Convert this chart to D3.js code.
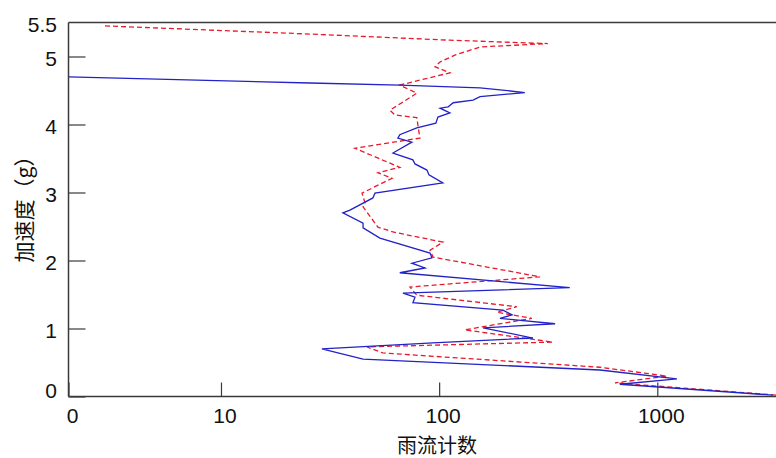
<!DOCTYPE html>
<html>
<head>
<meta charset="utf-8">
<script src="https://cdn.jsdelivr.net/npm/d3@7/dist/d3.min.js"></script>
<style>
  html, body { margin: 0; padding: 0; background: #fff; }
  svg { display: block; }
  .tick-label { font-family: "Liberation Sans", Arial, sans-serif; font-size: 21px; fill: #111; }
  .axis-title { font-family: "Noto Sans CJK SC", sans-serif; font-size: 21px; fill: #111; }
</style>
</head>
<body>
<svg id="chart" width="776" height="458"></svg>
<script>
// Rainflow counts (log axis) against acceleration level (g)
const series1Count = [2, 25.6, 66, 154, 247, 154, 143, 116, 110, 101, 112, 98.7, 96.6, 79, 66, 64.7, 75, 61.4, 75.8, 77.5, 87.9, 89.8, 104, 50.8, 49.7, 39, 36.2, 44.8, 44.8, 53.5, 90.8, 92.7, 75, 86.1, 66, 397, 68.2, 77.5, 75.8, 196, 216, 190, 340, 159, 269, 93.6, 29, 44.8, 546, 1230, 673, 3388];
const series1Accel = [4.70, 4.61, 4.58, 4.54, 4.47, 4.41, 4.36, 4.32, 4.26, 4.24, 4.17, 4.11, 4.02, 3.95, 3.85, 3.80, 3.74, 3.58, 3.48, 3.42, 3.33, 3.26, 3.14, 2.99, 2.92, 2.74, 2.70, 2.55, 2.48, 2.33, 2.11, 2.04, 1.96, 1.89, 1.82, 1.60, 1.52, 1.46, 1.38, 1.27, 1.20, 1.15, 1.07, 1.01, 0.86, 0.79, 0.70, 0.55, 0.39, 0.26, 0.18, 0.02];

const series2Count = [2.94, 25.6, 112, 315, 154, 118, 101, 95.7, 112, 66, 79, 59.5, 62.7, 79, 81.6, 41.1, 66, 52.4, 60.8, 44.3, 45.7, 44.8, 52.4, 61.4, 104, 90.8, 93.8, 290, 73.5, 79, 227, 184, 266, 131, 332, 46.7, 55.2, 546, 1107, 640, 3532];
const series2Accel = [5.45, 5.33, 5.24, 5.19, 5.14, 5.02, 4.92, 4.85, 4.76, 4.58, 4.46, 4.21, 4.14, 4.10, 3.80, 3.65, 3.37, 3.29, 3.21, 2.99, 2.85, 2.79, 2.49, 2.42, 2.27, 2.15, 2.05, 1.76, 1.61, 1.49, 1.32, 1.24, 1.15, 0.98, 0.80, 0.73, 0.64, 0.43, 0.30, 0.20, 0.02];

const xTickValues = [2, 10, 100, 1000];
const xTickLabels = ["0", "10", "100", "1000"];
const yTickValues = [0, 1, 2, 3, 4, 5, 5.5];
const yTickLabels = ["0", "1", "2", "3", "4", "5", "5.5"];

const xTitle = "雨流计数";
const yTitle = "加速度（g）";

const svg = d3.select("#chart");
const plotLeft = 68.5, plotRight = 776, plotTop = 22.5, plotBottom = 396.5;

const x = d3.scaleLog().domain([2, 3500]).range([plotLeft, plotRight]);
const y = d3.scaleLinear().domain([0, 5.5]).range([plotBottom, plotTop]);

svg.append("defs").append("clipPath").attr("id", "plot-clip")
  .append("rect").attr("x", plotLeft).attr("y", plotTop)
  .attr("width", plotRight - plotLeft).attr("height", plotBottom - plotTop);

const line = d3.line().x(d => x(d[0])).y(d => y(d[1]));
const s1 = series1Count.map((c, i) => [c, series1Accel[i]]);
const s2 = series2Count.map((c, i) => [c, series2Accel[i]]);

const plot = svg.append("g").attr("clip-path", "url(#plot-clip)");
plot.append("path").datum(s2)
  .attr("fill", "none").attr("stroke", "#e8192c").attr("stroke-width", 1.3)
  .attr("stroke-dasharray", "5,3").attr("d", line);
plot.append("path").datum(s1)
  .attr("fill", "none").attr("stroke", "#2222c8").attr("stroke-width", 1.3)
  .attr("d", line);

// Frame: left, bottom and top edges
const axisColor = "#3a3a3a";
svg.append("line").attr("x1", plotLeft).attr("x2", plotLeft).attr("y1", plotTop).attr("y2", plotBottom)
  .attr("stroke", axisColor).attr("stroke-width", 1.5);
svg.append("line").attr("x1", plotLeft).attr("x2", plotRight).attr("y1", plotBottom).attr("y2", plotBottom)
  .attr("stroke", axisColor).attr("stroke-width", 1.5);
svg.append("line").attr("x1", plotLeft).attr("x2", plotRight).attr("y1", plotTop).attr("y2", plotTop)
  .attr("stroke", axisColor).attr("stroke-width", 1.5);

// Inward ticks
const xAxis = d3.axisTop(x).tickValues(xTickValues).tickSize(14).tickFormat("");
const xg = svg.append("g").attr("transform", `translate(0,${plotBottom})`).call(xAxis);
xg.select(".domain").remove();
xg.selectAll(".tick line").attr("stroke", axisColor).attr("stroke-width", 1.2);

const yAxis = d3.axisRight(y).tickValues(yTickValues.filter(v => v < 5.5)).tickSize(17).tickFormat("");
const yg = svg.append("g").attr("transform", `translate(${plotLeft},0)`).call(yAxis);
yg.select(".domain").remove();
yg.selectAll(".tick line").attr("stroke", axisColor).attr("stroke-width", 1.2);

// Tick labels
svg.selectAll(".xl").data(xTickValues).enter().append("text")
  .attr("class", "tick-label").attr("x", d => x(d) + 4).attr("y", 415)
  .attr("text-anchor", "middle").attr("dominant-baseline", "central")
  .text((d, i) => xTickLabels[i]);

svg.selectAll(".yl").data(yTickValues).enter().append("text")
  .attr("class", "tick-label").attr("x", 57)
  .attr("y", d => d === 0 ? y(d) - 6 : y(d) + 2)
  .attr("text-anchor", "end").attr("dominant-baseline", "central")
  .text((d, i) => yTickLabels[i]);

// Axis titles
svg.append("text").attr("class", "axis-title")
  .attr("x", 437).attr("y", 444).attr("text-anchor", "middle")
  .attr("dominant-baseline", "central").style("font-size", "20px").text(xTitle);

svg.append("text").attr("class", "axis-title")
  .attr("transform", "translate(23,204) rotate(-90)")
  .attr("text-anchor", "middle").attr("dominant-baseline", "central").text(yTitle);
</script>
</body>
</html>
